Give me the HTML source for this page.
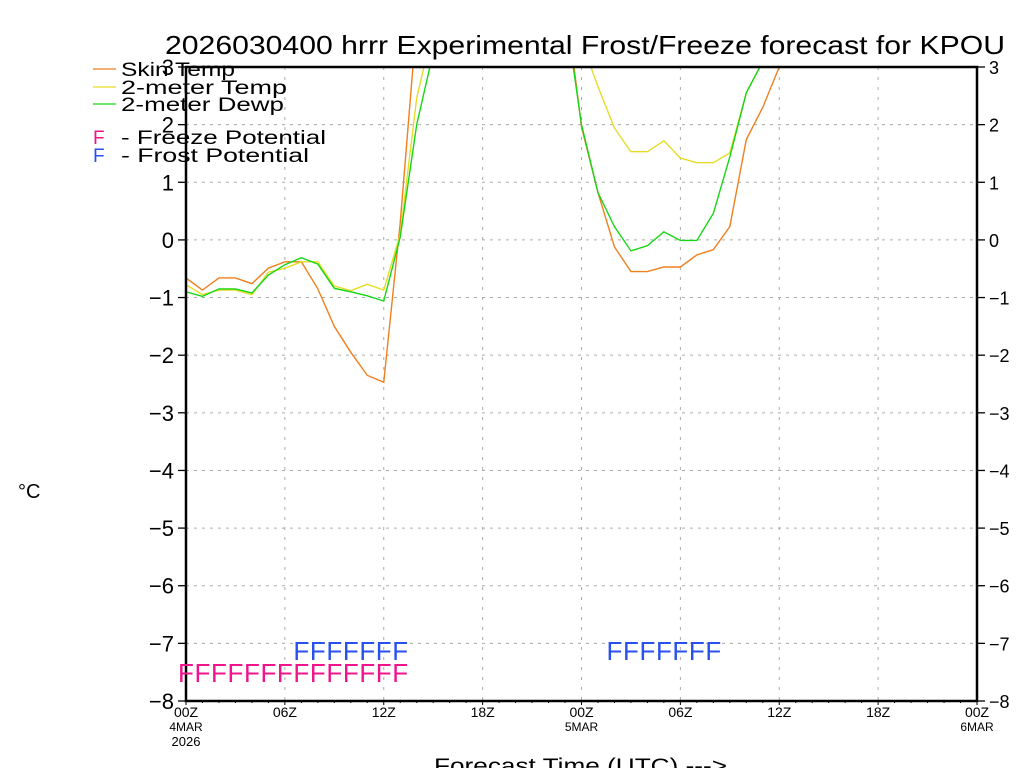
<!DOCTYPE html>
<html><head><meta charset="utf-8"><style>
html,body{margin:0;padding:0;background:#fff;}
svg{display:block;font-family:"Liberation Sans",sans-serif;}
</style></head><body>
<svg id="chart" width="1024" height="768" viewBox="0 0 1024 768" xmlns="http://www.w3.org/2000/svg">
<defs><clipPath id="pc"><rect x="186" y="67" width="791" height="634"/></clipPath></defs>
<g id="grid"></g>
<g id="series" clip-path="url(#pc)"></g>
<g id="axes"></g>
<g id="flags"></g>
<text x="165" y="54" font-size="26" textLength="840" lengthAdjust="spacingAndGlyphs" fill="#000">2026030400 hrrr Experimental Frost/Freeze forecast for KPOU</text>
<text x="18" y="498" font-size="20" fill="#000">°C</text>
<text x="434" y="773" font-size="21" textLength="293" lengthAdjust="spacingAndGlyphs" fill="#000">Forecast Time (UTC) ---&gt;</text>
<g font-size="19" fill="#000">
<line x1="93" y1="69" x2="116" y2="69" stroke="#f07f1e" stroke-width="1.3"/>
<text x="121" y="76" textLength="114" lengthAdjust="spacingAndGlyphs">Skin Temp</text>
<line x1="93" y1="87" x2="116" y2="87" stroke="#e6dc28" stroke-width="1.3"/>
<text x="121" y="94" textLength="166" lengthAdjust="spacingAndGlyphs">2-meter Temp</text>
<line x1="93" y1="104" x2="116" y2="104" stroke="#16d616" stroke-width="1.3"/>
<text x="121" y="111" textLength="163" lengthAdjust="spacingAndGlyphs">2-meter Dewp</text>
<text x="93" y="144" fill="#f0148c">F</text><text x="121" y="144" textLength="205" lengthAdjust="spacingAndGlyphs">- Freeze Potential</text>
<text x="93" y="162" fill="#2850ee">F</text><text x="121" y="162" textLength="188" lengthAdjust="spacingAndGlyphs">- Frost Potential</text>
</g>
</svg>
<script>
const hours = [0,1,2,3,4,5,6,7,8,9,10,11,12,13,14,15,16,23,24,25,26,27,28,29,30,31,32,33,34,35,36,37];
const skinTemp = [-0.66,-0.87,-0.66,-0.66,-0.76,-0.49,-0.38,-0.38,-0.85,-1.5,-1.95,-2.35,-2.47,0.3,3.8,5,5,4.25,1.96,0.82,-0.12,-0.55,-0.55,-0.47,-0.47,-0.26,-0.17,0.23,1.74,2.3,3.0,3.6];
const temp2m = [-0.78,-0.95,-0.87,-0.87,-0.95,-0.56,-0.49,-0.38,-0.38,-0.8,-0.88,-0.77,-0.87,0.1,2.46,3.7,5,5,3.45,2.66,1.94,1.53,1.53,1.72,1.42,1.34,1.34,1.51,2.55,3.1,3.6,4];
const dewp2m = [-0.9,-0.98,-0.85,-0.85,-0.92,-0.61,-0.43,-0.31,-0.42,-0.84,-0.9,-0.97,-1.06,0.05,2.0,3.25,5,4.0,2.0,0.82,0.23,-0.19,-0.1,0.14,-0.01,-0.01,0.46,1.44,2.55,3.1,3.6,4];
const freezeHours = [0,1,2,3,4,5,6,7,8,9,10,11,12,13];
const frostHours = [7,8,9,10,11,12,13,26,27,28,29,30,31,32];
const yTicks = [3,2,1,0,-1,-2,-3,-4,-5,-6,-7,-8];
const xTickHours = [0,6,12,18,24,30,36,42,48];
const xTickLabels = ["00Z","06Z","12Z","18Z","00Z","06Z","12Z","18Z","00Z"];
const xTickSub = ["4MAR","","","","5MAR","","","","6MAR"];

const X0=186,X1=977,Y0=701,Y1=67,HMAX=48,VMIN=-8,VMAX=3;
const xs=h=>X0+(X1-X0)*h/HMAX;
const ys=v=>Y0-(Y0-Y1)*(v-VMIN)/(VMAX-VMIN);
const NS="http://www.w3.org/2000/svg";
function mk(tag,attrs,parent){const e=document.createElementNS(NS,tag);for(const k in attrs)e.setAttribute(k,attrs[k]);parent.appendChild(e);return e;}
const grid=document.getElementById('grid'),ser=document.getElementById('series'),ax=document.getElementById('axes'),fl=document.getElementById('flags');

yTicks.forEach(v=>{
  const g=mk('line',{x1:X0,x2:X1,y1:ys(v),y2:ys(v),stroke:'#aaa','stroke-dasharray':'3,5'},grid);
  
  
  const tl=mk('line',{x1:X0-8,x2:X0,y1:ys(v),y2:ys(v),stroke:'#000','stroke-width':1.3},ax);
  
  
  const tr=mk('line',{x1:X1,x2:X1+8,y1:ys(v),y2:ys(v),stroke:'#000','stroke-width':1.3},ax);
  
  
  const lab=(v<0?'\u2212':'')+Math.abs(v);
  const t1=mk('text',{x:X0-12,y:ys(v)+8,'font-size':22,'text-anchor':'end',fill:'#000','font-weight':'300'},ax);
  t1.textContent=lab;
  
  
  const t2=mk('text',{x:X1+12,y:ys(v)+7,'font-size':18,fill:'#000'},ax);
  t2.textContent=lab;
  
  
});
xTickHours.forEach((h,i)=>{
  if(h>0&&h<HMAX){const g=mk('line',{x1:xs(h),x2:xs(h),y1:Y1,y2:Y0,stroke:'#aaa','stroke-dasharray':'3,7'},grid);
  
  }
  const t=mk('text',{x:xs(h),y:717,'font-size':14,'text-anchor':'middle',fill:'#000'},ax);
  t.textContent=xTickLabels[i];
  
  
  if(xTickSub[i]){const s=mk('text',{x:xs(h),y:731,'font-size':12,'text-anchor':'middle',fill:'#000'},ax);
  s.textContent=xTickSub[i];
  
  }
});
const yr=mk('text',{x:xs(0),y:746,'font-size':13,'text-anchor':'middle',fill:'#000'},ax);
yr.textContent='2026';


for(let h=0;h<=HMAX;h++){const t=mk('line',{x1:xs(h),x2:xs(h),y1:Y0,y2:Y0+(h%6?2:4),stroke:'#000'},ax);

}
const fr=mk('rect',{x:X0,y:Y1,width:X1-X0,height:Y0-Y1,fill:'none',stroke:'#000','stroke-width':2.5},ax);



[[skinTemp,'#f07f1e','skin-temp-line'],[temp2m,'#e6dc28','temp-2m-line'],[dewp2m,'#16d616','dewpoint-2m-line']].forEach(([arr,c,n])=>{
  const p=mk('polyline',{points:arr.map((v,i)=>xs(hours[i])+','+ys(v)).join(' '),fill:'none',stroke:c,'stroke-width':1.4},ser);
  
  
});
freezeHours.forEach(h=>{const t=mk('text',{x:xs(h),y:682,'font-size':26,'text-anchor':'middle',fill:'#f0148c','font-weight':'300'},fl);
t.textContent='F';

});
frostHours.forEach(h=>{const t=mk('text',{x:xs(h),y:660,'font-size':26,'text-anchor':'middle',fill:'#2850ee','font-weight':'300'},fl);
t.textContent='F';

});
</script>
</body></html>
